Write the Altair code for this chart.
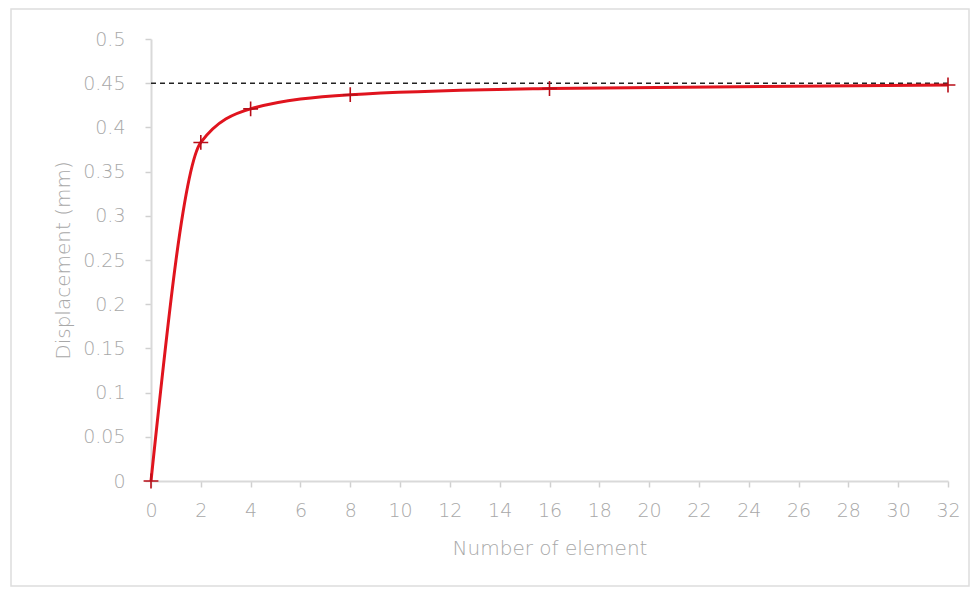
import altair as alt
import pandas as pd

elements = [0, 2, 4, 8, 16, 32]
displacement = [0.0, 0.383, 0.421, 0.437, 0.444, 0.448]
reference_value = 0.45
x_ticks = list(range(0, 33, 2))
y_ticks = [round(i * 0.05, 2) for i in range(11)]

df = pd.DataFrame({"n": elements, "d": displacement})
ref = pd.DataFrame({"x0": [0], "x1": [32], "y": [reference_value]})

FONT = "DejaVu Sans"
GRAY = "#a8a8a8"

x_enc = alt.X("n:Q", scale=alt.Scale(domain=[0, 32], nice=False),
              axis=alt.Axis(values=x_ticks, title="Number of element", grid=False,
                            labelFlush=False, labelPadding=14, titlePadding=18))
y_enc = alt.Y("d:Q", scale=alt.Scale(domain=[0, 0.5], nice=False),
              axis=alt.Axis(values=y_ticks, format=".2~f", title="Displacement (mm)", grid=False,
                            labelFlush=False, labelPadding=20, titlePadding=9))

line = alt.Chart(df).mark_line(color="#e0141e", strokeWidth=3, interpolate="monotone").encode(x=x_enc, y=y_enc)
pts = alt.Chart(df).mark_point(shape="M-1,0L1,0M0,-1L0,1", size=220, filled=False,
                               color="#b80e18", strokeWidth=1.6, opacity=1).encode(x="n:Q", y="d:Q")
dash = alt.Chart(ref).mark_rule(color="#222222", strokeDash=[5, 4], strokeWidth=1.5).encode(
    x="x0:Q", x2="x1:Q", y="y:Q")
border = alt.Chart(ref).mark_rect(fill=None, stroke="#dddddd", strokeWidth=1.5, clip=False).encode(
    x=alt.value(-140), x2=alt.value(818), y=alt.value(-30), y2=alt.value(547))

chart = alt.layer(border, dash, line, pts).properties(
    width=797, height=442, padding={"left": 2, "top": 0, "right": 0, "bottom": 0}
).configure_view(stroke=None).configure_axis(
    labelFont=FONT, titleFont=FONT, labelColor=GRAY, titleColor=GRAY,
    labelFontSize=19, titleFontSize=20, titleFontWeight=200, labelFontWeight=200,
    domainColor="#d9d9d9", tickColor="#d0d0d0", domainWidth=2, tickWidth=1.5, tickSize=6,
)

chart.save("out.html", embed_options={"renderer": "svg", "actions": False})
